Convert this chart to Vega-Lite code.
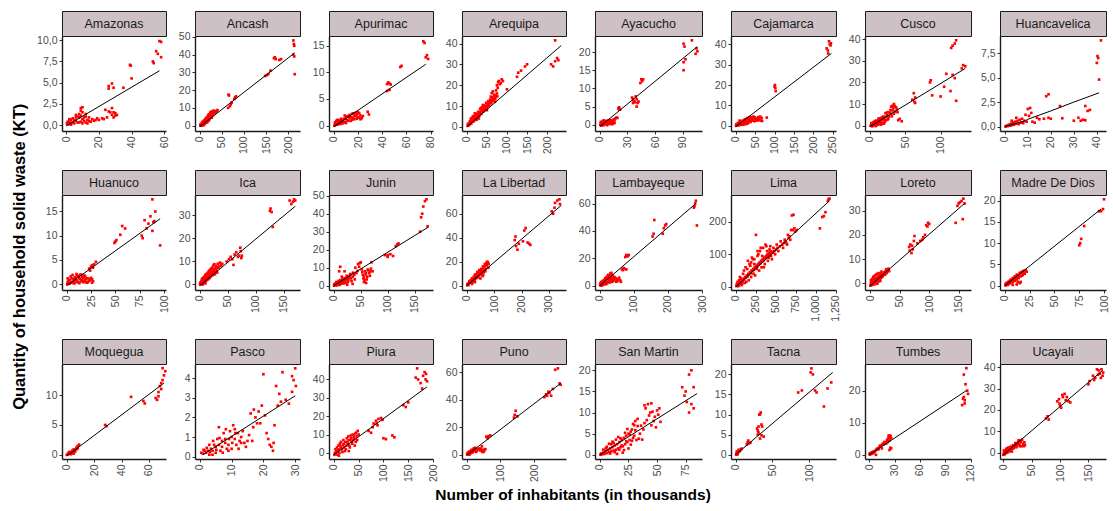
{
"$schema":"https://vega.github.io/schema/vega-lite/v6.json",
"background":"white",
"padding":{"left":12,"top":10,"right":5,"bottom":5},
"config":{
 "view":{"stroke":null},
 "font":"Liberation Sans",
 "numberFormat":",d",
 "axis":{"grid":false,"labelFont":"Liberation Sans","labelFontSize":10.5,"labelColor":"#4d4d4d","domainColor":"#1a1a1a","domainWidth":1.4,"tickColor":"#333333","tickSize":3,"tickWidth":1,"labelPadding":2,"labelExpr":"replace(datum.label, '.', ',')","labelOverlap":false,"labelFlush":false},
 "axisX":{"labelAngle":270},
 "square":{"size":7,"color":"#ff0000","opacity":1},
 "text":{"fontSize":12.5,"color":"#1a1a1a"},
 "title":{"font":"Liberation Sans","fontWeight":"bold","color":"#000000"}
},
"datasets":{
"p_Amazonas":[{"x":57,"y":9.9},{"x":58,"y":9.8},{"x":55,"y":8.7},{"x":56,"y":8.4},{"x":58,"y":8},{"x":53,"y":7.5},{"x":53.5,"y":7.3},{"x":39,"y":7.1},{"x":39.5,"y":7},{"x":40,"y":5.5},{"x":35,"y":4.4},{"x":26,"y":4.3},{"x":26,"y":4.6},{"x":28,"y":4.9},{"x":29,"y":4.4},{"x":24,"y":1.8},{"x":27,"y":1.5},{"x":28,"y":2},{"x":28,"y":1.2},{"x":30,"y":1.1},{"x":31,"y":1.2},{"x":29,"y":0.9},{"x":22,"y":0.8},{"x":20,"y":0.6},{"x":18,"y":0.6},{"x":19,"y":0.8},{"x":14,"y":0.5},{"x":12,"y":0.3},{"x":10,"y":0.7},{"x":10,"y":1.5},{"x":9,"y":2},{"x":8,"y":0.9},{"x":7,"y":1},{"x":6,"y":0.5},{"x":5,"y":0.6},{"x":4,"y":0.3},{"x":3,"y":0.2},{"x":2,"y":0.4},{"x":1,"y":0.1},{"x":0.5,"y":0.2},{"x":8,"y":0.3},{"x":11,"y":0.9},{"x":6,"y":1.2},{"x":3,"y":0.6},{"x":2,"y":0.1},{"x":12,"y":1},{"x":13,"y":0.6},{"x":9,"y":0.4},{"x":1,"y":0.4},{"x":2,"y":0.7},{"x":3,"y":0.05},{"x":4,"y":0.8},{"x":5,"y":0.2},{"x":6,"y":0.9},{"x":7,"y":0.3},{"x":8,"y":1.3},{"x":9,"y":1.1},{"x":10,"y":0.2},{"x":11,"y":0.5},{"x":12,"y":1.3},{"x":13,"y":0.2},{"x":14,"y":0.9},{"x":15,"y":0.4},{"x":16,"y":0.7},{"x":17,"y":0.5},{"x":9,"y":1.7},{"x":10,"y":2.1},{"x":26,"y":1.6},{"x":29,"y":1.5},{"x":30,"y":1.4},{"x":25,"y":0.9},{"x":23,"y":0.7}],
"f_Amazonas":[{"x":0,"y":-0.1},{"x":57,"y":6.4}],
"p_Ancash":[{"x":1,"y":0.2},{"x":2,"y":0},{"x":3,"y":0.5},{"x":4,"y":0.3},{"x":5,"y":1.2},{"x":6,"y":0.8},{"x":7,"y":1.5},{"x":8,"y":1},{"x":9,"y":0.5},{"x":10,"y":1.5},{"x":11,"y":2.5},{"x":12,"y":2},{"x":13,"y":3.5},{"x":14,"y":2.5},{"x":15,"y":3},{"x":16,"y":4},{"x":17,"y":2},{"x":18,"y":4},{"x":19,"y":5},{"x":20,"y":4.5},{"x":21,"y":3},{"x":22,"y":5},{"x":23,"y":6},{"x":24,"y":5.5},{"x":25,"y":7},{"x":26,"y":6},{"x":27,"y":4.5},{"x":28,"y":7.5},{"x":30,"y":7},{"x":32,"y":8},{"x":35,"y":7.5},{"x":38,"y":8},{"x":6,"y":2},{"x":10,"y":3},{"x":65,"y":17.5},{"x":66,"y":17},{"x":64,"y":10},{"x":68,"y":11},{"x":70,"y":12},{"x":72,"y":13},{"x":78,"y":15},{"x":80,"y":16},{"x":82,"y":16.5},{"x":148,"y":28},{"x":152,"y":28.5},{"x":155,"y":29},{"x":160,"y":31},{"x":168,"y":38},{"x":170,"y":38.5},{"x":172,"y":37.5},{"x":180,"y":37},{"x":184,"y":37.5},{"x":212,"y":48},{"x":213,"y":46},{"x":214,"y":45},{"x":212,"y":40},{"x":214,"y":39},{"x":215,"y":29},{"x":2,"y":0.8},{"x":4,"y":1.2},{"x":5,"y":0.1},{"x":7,"y":2.2},{"x":8,"y":0.3},{"x":9,"y":2.5},{"x":11,"y":1},{"x":12,"y":3.2},{"x":13,"y":1.5},{"x":14,"y":4.2},{"x":15,"y":1.8},{"x":16,"y":4.8},{"x":17,"y":3.5},{"x":18,"y":2.8},{"x":19,"y":6},{"x":20,"y":3.2},{"x":21,"y":6.5},{"x":22,"y":4},{"x":23,"y":4.5},{"x":24,"y":7.5},{"x":26,"y":5},{"x":27,"y":8},{"x":29,"y":6},{"x":31,"y":8.5},{"x":33,"y":7},{"x":36,"y":8.2},{"x":40,"y":8.8}],
"f_Ancash":[{"x":0,"y":-0.5},{"x":215,"y":41}],
"p_Apurimac":[{"x":0.5,"y":0},{"x":1,"y":0.3},{"x":2,"y":0.2},{"x":3,"y":0.6},{"x":4,"y":0.4},{"x":5,"y":0.8},{"x":6,"y":0.5},{"x":7,"y":1},{"x":8,"y":1.2},{"x":9,"y":0.7},{"x":10,"y":1.5},{"x":11,"y":1},{"x":12,"y":1.8},{"x":13,"y":1.4},{"x":14,"y":0.9},{"x":15,"y":2.2},{"x":16,"y":1.5},{"x":17,"y":1.2},{"x":18,"y":1.8},{"x":19,"y":2.1},{"x":20,"y":1.6},{"x":21,"y":2.3},{"x":22,"y":1.9},{"x":23,"y":1.4},{"x":28,"y":2.6},{"x":29,"y":2.1},{"x":44,"y":7.8},{"x":45,"y":8.1},{"x":46,"y":7.9},{"x":47,"y":7.7},{"x":44,"y":6.5},{"x":46,"y":6.7},{"x":55,"y":11},{"x":56,"y":11.2},{"x":74,"y":15.8},{"x":75,"y":15.5},{"x":76,"y":12.8},{"x":77,"y":13.2},{"x":78,"y":12.5},{"x":3,"y":1.1},{"x":6,"y":1.3},{"x":9,"y":1.9},{"x":1,"y":0.6},{"x":2,"y":0.9},{"x":3,"y":0.2},{"x":4,"y":1},{"x":5,"y":0.3},{"x":6,"y":0.9},{"x":7,"y":0.4},{"x":8,"y":0.6},{"x":9,"y":1.3},{"x":10,"y":0.5},{"x":11,"y":1.7},{"x":12,"y":0.9},{"x":13,"y":2},{"x":14,"y":1.6},{"x":15,"y":1.1},{"x":16,"y":2.3},{"x":17,"y":1.9},{"x":18,"y":2.4},{"x":19,"y":1.3},{"x":20,"y":2.5},{"x":22,"y":1.2},{"x":24,"y":1.8},{"x":21,"y":1.5}],
"f_Apurimac":[{"x":0,"y":-0.2},{"x":76,"y":11.5}],
"p_Arequipa":[{"x":2,"y":0.5},{"x":5,"y":1},{"x":7,"y":2},{"x":10,"y":2},{"x":12,"y":3},{"x":15,"y":3},{"x":17,"y":4},{"x":20,"y":4},{"x":22,"y":5},{"x":25,"y":5},{"x":27,"y":6},{"x":30,"y":6},{"x":32,"y":7},{"x":35,"y":7},{"x":37,"y":8},{"x":40,"y":8},{"x":42,"y":9},{"x":45,"y":9},{"x":47,"y":10},{"x":50,"y":10},{"x":52,"y":11},{"x":55,"y":11},{"x":57,"y":12},{"x":60,"y":12},{"x":62,"y":13},{"x":65,"y":13},{"x":67,"y":14},{"x":70,"y":14},{"x":72,"y":15},{"x":75,"y":16},{"x":10,"y":4},{"x":20,"y":6.5},{"x":30,"y":4},{"x":40,"y":10.5},{"x":50,"y":8},{"x":60,"y":14.5},{"x":70,"y":12},{"x":65,"y":17},{"x":75,"y":20},{"x":78,"y":21.5},{"x":80,"y":22},{"x":85,"y":21},{"x":90,"y":22},{"x":100,"y":18},{"x":125,"y":24},{"x":128,"y":26},{"x":135,"y":27},{"x":145,"y":29},{"x":150,"y":30},{"x":210,"y":30},{"x":215,"y":29},{"x":220,"y":31.5},{"x":225,"y":33},{"x":228,"y":32},{"x":220,"y":41.5},{"x":15,"y":5},{"x":25,"y":3.5},{"x":35,"y":9},{"x":3,"y":1.5},{"x":6,"y":0.8},{"x":8,"y":2.8},{"x":11,"y":1.5},{"x":13,"y":4.2},{"x":16,"y":2.5},{"x":18,"y":5.3},{"x":21,"y":3.2},{"x":23,"y":6.2},{"x":26,"y":4.5},{"x":28,"y":7.2},{"x":31,"y":5.3},{"x":33,"y":8.5},{"x":36,"y":6.2},{"x":38,"y":9.4},{"x":41,"y":7.3},{"x":43,"y":10.3},{"x":46,"y":8.2},{"x":48,"y":11.5},{"x":51,"y":9.3},{"x":53,"y":12.3},{"x":56,"y":10.2},{"x":58,"y":13.1},{"x":61,"y":11.3},{"x":63,"y":14.2},{"x":66,"y":12.5},{"x":68,"y":15.4},{"x":71,"y":13.3},{"x":73,"y":17.5},{"x":76,"y":14.6},{"x":77,"y":18.8},{"x":82,"y":20.5},{"x":87,"y":22.8},{"x":62,"y":16.2}],
"f_Arequipa":[{"x":0,"y":0},{"x":235,"y":39}],
"p_Ayacucho":[{"x":0.5,"y":0},{"x":1,"y":0.3},{"x":2,"y":-0.2},{"x":3,"y":0.2},{"x":4,"y":0.5},{"x":5,"y":0.1},{"x":6,"y":0.6},{"x":7,"y":0.3},{"x":8,"y":0.8},{"x":9,"y":0.4},{"x":10,"y":1},{"x":11,"y":0.6},{"x":12,"y":1.2},{"x":13,"y":0.3},{"x":14,"y":0.8},{"x":15,"y":1.5},{"x":16,"y":0.5},{"x":17,"y":1.8},{"x":18,"y":2},{"x":20,"y":4.5},{"x":21,"y":4.8},{"x":22,"y":4.2},{"x":35,"y":7.5},{"x":36,"y":7},{"x":37,"y":6.5},{"x":38,"y":6.2},{"x":40,"y":7},{"x":41,"y":6},{"x":40,"y":5},{"x":44,"y":11.5},{"x":45,"y":12.5},{"x":46,"y":12},{"x":47,"y":12.5},{"x":91,"y":22.3},{"x":92,"y":21.5},{"x":93,"y":18},{"x":91,"y":17.2},{"x":91,"y":15},{"x":100,"y":23.2},{"x":104,"y":19.5},{"x":105,"y":21},{"x":106,"y":20.2},{"x":4,"y":1.2},{"x":8,"y":-0.1},{"x":12,"y":0.2},{"x":1,"y":0.8},{"x":2,"y":0.5},{"x":3,"y":0.9},{"x":4,"y":-0.1},{"x":5,"y":0.6},{"x":6,"y":1.1},{"x":7,"y":0.9},{"x":8,"y":0.2},{"x":9,"y":1.2},{"x":10,"y":0.3},{"x":11,"y":1.3},{"x":12,"y":0.7},{"x":13,"y":1.1},{"x":14,"y":0.2},{"x":15,"y":0.6},{"x":16,"y":1.3},{"x":19,"y":1.9},{"x":21,"y":4.2},{"x":36,"y":6},{"x":39,"y":7.8},{"x":42,"y":6.4}],
"f_Ayacucho":[{"x":0,"y":-0.5},{"x":106,"y":21.5}],
"p_Cajamarca":[{"x":1,"y":0},{"x":3,"y":0.5},{"x":5,"y":0.2},{"x":7,"y":1},{"x":9,"y":0.6},{"x":11,"y":1.5},{"x":13,"y":0.8},{"x":15,"y":1.8},{"x":17,"y":1},{"x":19,"y":2.2},{"x":21,"y":1.2},{"x":23,"y":2.8},{"x":25,"y":1.5},{"x":27,"y":3},{"x":29,"y":2},{"x":31,"y":3.5},{"x":33,"y":2.5},{"x":35,"y":3.8},{"x":37,"y":2.2},{"x":39,"y":4},{"x":41,"y":3},{"x":43,"y":4.2},{"x":45,"y":2.8},{"x":47,"y":3.5},{"x":50,"y":4},{"x":52,"y":2.5},{"x":55,"y":3},{"x":58,"y":4.2},{"x":60,"y":3.5},{"x":62,"y":2.8},{"x":65,"y":2.5},{"x":68,"y":2.3},{"x":80,"y":4},{"x":101,"y":20},{"x":102,"y":18.5},{"x":103,"y":17},{"x":100,"y":19.2},{"x":234,"y":38},{"x":237,"y":37},{"x":240,"y":41.5},{"x":242,"y":40},{"x":244,"y":39.5},{"x":238,"y":35.5},{"x":245,"y":40.5},{"x":10,"y":2.5},{"x":20,"y":0.5},{"x":30,"y":1},{"x":2,"y":0.8},{"x":4,"y":0.2},{"x":6,"y":1.3},{"x":8,"y":0.3},{"x":10,"y":1.5},{"x":12,"y":0.4},{"x":14,"y":2},{"x":16,"y":0.6},{"x":18,"y":2.5},{"x":20,"y":1.5},{"x":22,"y":2},{"x":24,"y":3.2},{"x":26,"y":0.8},{"x":28,"y":2.5},{"x":30,"y":3.8},{"x":32,"y":1.5},{"x":34,"y":3},{"x":36,"y":4.2},{"x":38,"y":1.8},{"x":40,"y":3.5},{"x":42,"y":2.5},{"x":44,"y":3.8},{"x":46,"y":4.5},{"x":48,"y":2.2},{"x":53,"y":3.5},{"x":57,"y":2.6},{"x":63,"y":4.5},{"x":67,"y":3.8}],
"f_Cajamarca":[{"x":0,"y":-0.5},{"x":246,"y":35.5}],
"p_Cusco":[{"x":1,"y":0},{"x":2,"y":0.5},{"x":3,"y":-0.3},{"x":4,"y":0.8},{"x":5,"y":0.3},{"x":6,"y":1.2},{"x":7,"y":0.5},{"x":8,"y":1.5},{"x":9,"y":0.2},{"x":10,"y":1},{"x":11,"y":2},{"x":12,"y":0.8},{"x":13,"y":2.5},{"x":14,"y":1.5},{"x":15,"y":2},{"x":16,"y":3},{"x":17,"y":1},{"x":18,"y":3.5},{"x":19,"y":2.5},{"x":20,"y":3},{"x":22,"y":4},{"x":24,"y":5},{"x":26,"y":4.5},{"x":28,"y":6},{"x":30,"y":5.5},{"x":32,"y":7},{"x":33,"y":8},{"x":34,"y":10},{"x":35,"y":9},{"x":36,"y":6.5},{"x":38,"y":7.5},{"x":40,"y":2.5},{"x":45,"y":2},{"x":20,"y":1},{"x":60,"y":12},{"x":62,"y":15},{"x":63,"y":11},{"x":64,"y":13},{"x":85,"y":20},{"x":86,"y":21},{"x":88,"y":14},{"x":100,"y":13.5},{"x":105,"y":18},{"x":108,"y":24},{"x":114,"y":16},{"x":117,"y":23.5},{"x":120,"y":22},{"x":122,"y":11.5},{"x":115,"y":36},{"x":117,"y":37},{"x":120,"y":38},{"x":122,"y":39.5},{"x":130,"y":26.5},{"x":132,"y":28},{"x":135,"y":27.5},{"x":12,"y":3.2},{"x":25,"y":2.8},{"x":2,"y":1.2},{"x":4,"y":-0.1},{"x":5,"y":1.6},{"x":7,"y":2.1},{"x":8,"y":-0.2},{"x":9,"y":2.3},{"x":10,"y":0.3},{"x":11,"y":0.6},{"x":12,"y":1.8},{"x":14,"y":3.4},{"x":15,"y":0.4},{"x":16,"y":1.3},{"x":17,"y":3.8},{"x":18,"y":0.8},{"x":19,"y":4.2},{"x":21,"y":1.8},{"x":22,"y":5.8},{"x":23,"y":2.5},{"x":25,"y":6.2},{"x":26,"y":3.2},{"x":27,"y":4.2},{"x":29,"y":7.2},{"x":31,"y":4.3},{"x":32,"y":9.2},{"x":34,"y":5.5},{"x":37,"y":8.5},{"x":39,"y":6.2},{"x":42,"y":3.1},{"x":30,"y":8.8},{"x":64,"y":10.5}],
"f_Cusco":[{"x":0,"y":-0.5},{"x":135,"y":26.5}],
"p_Huancavelica":[{"x":0.3,"y":0},{"x":0.8,"y":0.1},{"x":1.2,"y":0.05},{"x":1.8,"y":0.2},{"x":2.2,"y":0.1},{"x":2.7,"y":0.3},{"x":3.1,"y":0.15},{"x":3.5,"y":0.4},{"x":4,"y":0.2},{"x":4.5,"y":0.5},{"x":5,"y":0.3},{"x":5.5,"y":0.6},{"x":6,"y":0.25},{"x":6.5,"y":0.7},{"x":7,"y":0.4},{"x":7.5,"y":0.8},{"x":8,"y":0.35},{"x":8.5,"y":0.6},{"x":9,"y":1.2},{"x":9.5,"y":0.5},{"x":10,"y":1.8},{"x":10.5,"y":1.1},{"x":11,"y":1.9},{"x":11.5,"y":1.4},{"x":12,"y":0.5},{"x":13,"y":0.4},{"x":14,"y":0.9},{"x":15,"y":0.75},{"x":18,"y":3.1},{"x":19,"y":3.3},{"x":17,"y":0.8},{"x":19,"y":0.9},{"x":20,"y":0.8},{"x":25,"y":0.85},{"x":24,"y":2.1},{"x":30,"y":0.6},{"x":32,"y":0.9},{"x":33,"y":0.6},{"x":34,"y":0.7},{"x":35,"y":0.65},{"x":35,"y":2.1},{"x":36,"y":1.6},{"x":37,"y":1.7},{"x":40,"y":6.5},{"x":40.3,"y":7.2},{"x":40.6,"y":7},{"x":41,"y":4.8},{"x":41.8,"y":8.8},{"x":5,"y":0.9},{"x":3,"y":0.6}],
"f_Huancavelica":[{"x":0,"y":0},{"x":9,"y":0.6},{"x":10,"y":0.75},{"x":20,"y":1.6},{"x":30,"y":2.5},{"x":41,"y":3.45}],
"p_Huanuco":[{"x":0.5,"y":0},{"x":1,"y":0.5},{"x":2,"y":0.2},{"x":3,"y":0.8},{"x":4,"y":0.3},{"x":5,"y":1.2},{"x":6,"y":0.5},{"x":7,"y":1},{"x":8,"y":0.2},{"x":9,"y":1.5},{"x":10,"y":0.8},{"x":11,"y":1.8},{"x":12,"y":0.5},{"x":13,"y":1.2},{"x":14,"y":2},{"x":15,"y":0.6},{"x":16,"y":1.5},{"x":17,"y":0.4},{"x":18,"y":1.8},{"x":19,"y":0.9},{"x":20,"y":1.2},{"x":21,"y":0.3},{"x":22,"y":0.5},{"x":24,"y":0.9},{"x":26,"y":1},{"x":27,"y":0.6},{"x":23,"y":3.2},{"x":25,"y":3.6},{"x":27,"y":3.4},{"x":30,"y":4.6},{"x":49,"y":8.5},{"x":50,"y":8.8},{"x":51,"y":9.1},{"x":55,"y":10.2},{"x":57,"y":12},{"x":60,"y":11.5},{"x":77,"y":10},{"x":78,"y":9.5},{"x":80,"y":13.2},{"x":84,"y":12.5},{"x":86,"y":14},{"x":88,"y":17.5},{"x":89,"y":12.8},{"x":90,"y":13},{"x":91,"y":15},{"x":96,"y":8},{"x":88,"y":11},{"x":82,"y":11.5},{"x":1,"y":1.2},{"x":2,"y":0.9},{"x":3,"y":0.1},{"x":4,"y":1.6},{"x":5,"y":0.4},{"x":6,"y":1.9},{"x":7,"y":0.2},{"x":8,"y":1.3},{"x":9,"y":0.7},{"x":10,"y":2.1},{"x":11,"y":0.4},{"x":12,"y":1.6},{"x":13,"y":0.2},{"x":14,"y":1.1},{"x":15,"y":1.9},{"x":16,"y":0.8},{"x":17,"y":1.3},{"x":18,"y":0.6},{"x":19,"y":1.6},{"x":20,"y":0.4},{"x":22,"y":1.2},{"x":23,"y":0.7},{"x":25,"y":1.3},{"x":26,"y":0.3},{"x":24,"y":2.8},{"x":28,"y":4.1},{"x":26,"y":3.9}],
"f_Huanuco":[{"x":0,"y":-0.3},{"x":96,"y":13.5}],
"p_Ica":[{"x":0.5,"y":0},{"x":2,"y":0.5},{"x":3,"y":0.3},{"x":4,"y":1},{"x":5,"y":1.5},{"x":6,"y":0.8},{"x":7,"y":2},{"x":8,"y":1.2},{"x":9,"y":2.5},{"x":10,"y":1.8},{"x":11,"y":3},{"x":12,"y":2.2},{"x":13,"y":3.5},{"x":14,"y":2.6},{"x":15,"y":4},{"x":16,"y":3},{"x":17,"y":4.5},{"x":18,"y":3.2},{"x":19,"y":5},{"x":20,"y":3.8},{"x":21,"y":5.5},{"x":22,"y":4.2},{"x":23,"y":6},{"x":24,"y":4.8},{"x":25,"y":6.5},{"x":26,"y":5},{"x":27,"y":7},{"x":28,"y":5.5},{"x":29,"y":8},{"x":30,"y":6},{"x":32,"y":9},{"x":35,"y":8},{"x":40,"y":9},{"x":48,"y":10},{"x":52,"y":11},{"x":55,"y":12},{"x":58,"y":11},{"x":60,"y":8.5},{"x":62,"y":13},{"x":65,"y":14},{"x":68,"y":12},{"x":70,"y":12.5},{"x":72,"y":16},{"x":74,"y":11.5},{"x":125,"y":32},{"x":126,"y":33},{"x":128,"y":31.5},{"x":130,"y":25},{"x":160,"y":36.5},{"x":163,"y":35},{"x":166,"y":36},{"x":170,"y":36.5},{"x":168,"y":37},{"x":5,"y":0},{"x":10,"y":0.5},{"x":1,"y":0.8},{"x":3,"y":1.6},{"x":4,"y":2.5},{"x":6,"y":2.9},{"x":7,"y":0.5},{"x":8,"y":3.4},{"x":9,"y":1},{"x":10,"y":4.2},{"x":11,"y":1.5},{"x":12,"y":4.6},{"x":13,"y":2},{"x":14,"y":5.1},{"x":15,"y":2.3},{"x":16,"y":5.8},{"x":17,"y":2.7},{"x":18,"y":6.3},{"x":19,"y":3.5},{"x":20,"y":6.8},{"x":21,"y":4.5},{"x":22,"y":7.3},{"x":23,"y":4.1},{"x":24,"y":8.2},{"x":25,"y":5.8},{"x":26,"y":8.8},{"x":27,"y":4.4},{"x":28,"y":6.8},{"x":30,"y":7.5},{"x":31,"y":5.2},{"x":33,"y":7.2},{"x":36,"y":9.5},{"x":38,"y":8.3},{"x":75,"y":12.5},{"x":73,"y":14.5}],
"f_Ica":[{"x":0,"y":-0.5},{"x":170,"y":34}],
"p_Junin":[{"x":0.5,"y":0},{"x":2,"y":0.5},{"x":4,"y":0.3},{"x":5,"y":1},{"x":7,"y":0.6},{"x":8,"y":1.5},{"x":10,"y":1},{"x":11,"y":2},{"x":12,"y":10.5},{"x":13,"y":1.5},{"x":15,"y":2.5},{"x":17,"y":2},{"x":19,"y":3},{"x":20,"y":8},{"x":21,"y":2.5},{"x":23,"y":3.5},{"x":25,"y":4},{"x":27,"y":3},{"x":29,"y":5},{"x":30,"y":6},{"x":32,"y":4},{"x":35,"y":5},{"x":38,"y":6},{"x":40,"y":10},{"x":42,"y":7},{"x":45,"y":12},{"x":48,"y":12.5},{"x":50,"y":13},{"x":52,"y":9},{"x":54,"y":6},{"x":55,"y":4},{"x":56,"y":2},{"x":57,"y":3},{"x":58,"y":8},{"x":60,"y":7},{"x":62,"y":5},{"x":63,"y":9},{"x":66,"y":7},{"x":68,"y":8},{"x":70,"y":13},{"x":95,"y":17},{"x":100,"y":17},{"x":105,"y":17.5},{"x":115,"y":22},{"x":120,"y":23.5},{"x":118,"y":23},{"x":160,"y":30},{"x":162,"y":38},{"x":164,"y":40},{"x":166,"y":44},{"x":169,"y":47},{"x":172,"y":48},{"x":174,"y":33},{"x":10,"y":8},{"x":15,"y":5},{"x":25,"y":0.5},{"x":35,"y":1},{"x":60,"y":1.5},{"x":1,"y":0.8},{"x":3,"y":1.2},{"x":5,"y":2.1},{"x":6,"y":0.2},{"x":7,"y":1.8},{"x":9,"y":2.6},{"x":11,"y":0.4},{"x":12,"y":3.1},{"x":14,"y":1.1},{"x":16,"y":3.5},{"x":18,"y":1.2},{"x":20,"y":4.2},{"x":22,"y":1.5},{"x":24,"y":5.5},{"x":26,"y":2},{"x":28,"y":4.5},{"x":31,"y":6.5},{"x":33,"y":2.5},{"x":36,"y":7.2},{"x":39,"y":3.5},{"x":44,"y":8.2},{"x":47,"y":10.5},{"x":53,"y":7.5},{"x":56,"y":4.8},{"x":59,"y":6.2},{"x":61,"y":3.5},{"x":64,"y":8.5},{"x":67,"y":5.5},{"x":69,"y":9.5},{"x":72,"y":8},{"x":100,"y":16},{"x":110,"y":16.5}],
"f_Junin":[{"x":0,"y":0},{"x":175,"y":32.5}],
"p_La_Libertad":[{"x":2,"y":0.5},{"x":5,"y":1},{"x":8,"y":2},{"x":10,"y":3},{"x":12,"y":2.5},{"x":15,"y":4},{"x":18,"y":3},{"x":20,"y":5},{"x":22,"y":6},{"x":25,"y":5},{"x":28,"y":7},{"x":30,"y":9},{"x":32,"y":6},{"x":35,"y":8},{"x":38,"y":10},{"x":40,"y":7},{"x":42,"y":9},{"x":45,"y":11},{"x":48,"y":9},{"x":50,"y":12},{"x":52,"y":10},{"x":55,"y":13},{"x":58,"y":8},{"x":60,"y":14},{"x":62,"y":11},{"x":65,"y":16},{"x":68,"y":12},{"x":70,"y":17},{"x":72,"y":19},{"x":75,"y":20},{"x":78,"y":19},{"x":80,"y":18},{"x":30,"y":3},{"x":50,"y":6},{"x":175,"y":38},{"x":178,"y":41},{"x":180,"y":33},{"x":185,"y":30},{"x":190,"y":35},{"x":205,"y":37},{"x":210,"y":46},{"x":215,"y":48},{"x":222,"y":36},{"x":228,"y":35},{"x":232,"y":34},{"x":310,"y":62},{"x":315,"y":60},{"x":320,"y":65},{"x":322,"y":69},{"x":330,"y":71},{"x":338,"y":72},{"x":340,"y":68},{"x":60,"y":9},{"x":20,"y":1.5},{"x":3,"y":1.5},{"x":6,"y":0.5},{"x":9,"y":3.5},{"x":13,"y":4.2},{"x":16,"y":2.5},{"x":19,"y":6},{"x":23,"y":3.5},{"x":26,"y":7.5},{"x":29,"y":5},{"x":33,"y":9.5},{"x":36,"y":6.5},{"x":39,"y":11.5},{"x":43,"y":7.5},{"x":46,"y":13},{"x":49,"y":10.5},{"x":53,"y":14},{"x":56,"y":11.5},{"x":59,"y":16},{"x":63,"y":13},{"x":66,"y":18},{"x":69,"y":14},{"x":73,"y":17},{"x":76,"y":19.5},{"x":79,"y":15}],
"f_La_Libertad":[{"x":0,"y":0},{"x":345,"y":67}],
"p_Lambayeque":[{"x":1,"y":0.5},{"x":3,"y":1},{"x":5,"y":0.2},{"x":7,"y":2},{"x":9,"y":1},{"x":11,"y":3},{"x":13,"y":1.5},{"x":15,"y":4},{"x":17,"y":2},{"x":19,"y":5},{"x":21,"y":2.5},{"x":23,"y":6},{"x":25,"y":3},{"x":27,"y":7},{"x":29,"y":4},{"x":31,"y":9},{"x":33,"y":5},{"x":35,"y":8},{"x":37,"y":3},{"x":40,"y":6},{"x":42,"y":4},{"x":45,"y":5},{"x":48,"y":3},{"x":50,"y":4.5},{"x":55,"y":5},{"x":60,"y":4},{"x":65,"y":12},{"x":70,"y":13},{"x":78,"y":12},{"x":75,"y":21},{"x":80,"y":22},{"x":85,"y":22.5},{"x":155,"y":36},{"x":158,"y":38},{"x":160,"y":48},{"x":188,"y":42},{"x":192,"y":44},{"x":195,"y":45},{"x":185,"y":38},{"x":278,"y":58},{"x":280,"y":60},{"x":282,"y":62},{"x":285,"y":44},{"x":276,"y":57},{"x":2,"y":1.8},{"x":4,"y":2.8},{"x":6,"y":0.5},{"x":8,"y":3.5},{"x":10,"y":0.8},{"x":12,"y":4.2},{"x":14,"y":2.8},{"x":16,"y":5.5},{"x":18,"y":1.2},{"x":20,"y":6.5},{"x":22,"y":1.8},{"x":24,"y":8},{"x":26,"y":4},{"x":28,"y":5.5},{"x":30,"y":2.5},{"x":32,"y":6.5},{"x":34,"y":9.5},{"x":36,"y":4.5},{"x":38,"y":7.5},{"x":43,"y":6.5},{"x":47,"y":5.5},{"x":52,"y":3.5},{"x":57,"y":6},{"x":62,"y":3},{"x":68,"y":11.5},{"x":72,"y":12.5},{"x":82,"y":21.5},{"x":78,"y":22.5}],
"f_Lambayeque":[{"x":0,"y":0},{"x":282,"y":60}],
"p_Lima":[{"x":5,"y":2},{"x":15,"y":4},{"x":25,"y":8},{"x":35,"y":5},{"x":45,"y":12},{"x":55,"y":15},{"x":65,"y":10},{"x":75,"y":20},{"x":85,"y":18},{"x":95,"y":25},{"x":105,"y":22},{"x":115,"y":30},{"x":125,"y":28},{"x":135,"y":35},{"x":145,"y":32},{"x":155,"y":40},{"x":165,"y":38},{"x":175,"y":45},{"x":185,"y":42},{"x":195,"y":50},{"x":205,"y":48},{"x":215,"y":55},{"x":225,"y":52},{"x":235,"y":60},{"x":245,"y":58},{"x":255,"y":65},{"x":265,"y":62},{"x":275,"y":70},{"x":285,"y":68},{"x":295,"y":75},{"x":305,"y":72},{"x":315,"y":80},{"x":325,"y":78},{"x":335,"y":85},{"x":345,"y":82},{"x":355,"y":90},{"x":365,"y":88},{"x":375,"y":95},{"x":385,"y":92},{"x":395,"y":100},{"x":405,"y":98},{"x":415,"y":105},{"x":425,"y":102},{"x":435,"y":110},{"x":445,"y":108},{"x":100,"y":50},{"x":120,"y":60},{"x":150,"y":80},{"x":180,"y":65},{"x":200,"y":90},{"x":220,"y":40},{"x":250,"y":160},{"x":260,"y":55},{"x":280,"y":100},{"x":300,"y":110},{"x":320,"y":60},{"x":340,"y":120},{"x":360,"y":70},{"x":380,"y":125},{"x":400,"y":80},{"x":420,"y":115},{"x":440,"y":95},{"x":460,"y":105},{"x":480,"y":110},{"x":500,"y":115},{"x":520,"y":120},{"x":550,"y":125},{"x":580,"y":130},{"x":600,"y":135},{"x":620,"y":140},{"x":640,"y":130},{"x":660,"y":150},{"x":650,"y":160},{"x":700,"y":220},{"x":720,"y":222},{"x":690,"y":175},{"x":740,"y":170},{"x":760,"y":175},{"x":1050,"y":180},{"x":1080,"y":215},{"x":1100,"y":218},{"x":1120,"y":230},{"x":1150,"y":265},{"x":1160,"y":270},{"x":1170,"y":272},{"x":50,"y":30},{"x":80,"y":10},{"x":130,"y":15},{"x":10,"y":8},{"x":20,"y":15},{"x":30,"y":2},{"x":40,"y":20},{"x":60,"y":25},{"x":70,"y":5},{"x":90,"y":40},{"x":110,"y":12},{"x":140,"y":55},{"x":160,"y":20},{"x":170,"y":70},{"x":190,"y":30},{"x":210,"y":85},{"x":230,"y":70},{"x":240,"y":35},{"x":270,"y":95},{"x":290,"y":50},{"x":310,"y":120},{"x":330,"y":95},{"x":350,"y":60},{"x":370,"y":130},{"x":390,"y":110},{"x":410,"y":90},{"x":430,"y":125},{"x":450,"y":85},{"x":470,"y":120},{"x":490,"y":100},{"x":510,"y":130},{"x":530,"y":110},{"x":560,"y":140},{"x":590,"y":120},{"x":610,"y":145},{"x":630,"y":135},{"x":670,"y":155},{"x":680,"y":145},{"x":710,"y":175},{"x":730,"y":180},{"x":270,"y":110},{"x":230,"y":85},{"x":190,"y":75}],
"f_Lima":[{"x":0,"y":0},{"x":1170,"y":265}],
"p_Loreto":[{"x":0,"y":-1},{"x":1,"y":0},{"x":2,"y":0.5},{"x":3,"y":-0.5},{"x":4,"y":1},{"x":5,"y":0},{"x":6,"y":1.5},{"x":7,"y":0.3},{"x":8,"y":1},{"x":9,"y":2},{"x":10,"y":0.5},{"x":11,"y":1.8},{"x":12,"y":0.8},{"x":13,"y":2.5},{"x":14,"y":1.2},{"x":15,"y":3},{"x":16,"y":1.5},{"x":17,"y":2.2},{"x":18,"y":4},{"x":19,"y":2.5},{"x":20,"y":3},{"x":22,"y":3.5},{"x":24,"y":4.5},{"x":26,"y":5},{"x":28,"y":4.2},{"x":30,"y":5.5},{"x":32,"y":5},{"x":5,"y":2.5},{"x":10,"y":3.5},{"x":66,"y":15},{"x":68,"y":16},{"x":70,"y":12.5},{"x":72,"y":14},{"x":75,"y":19.5},{"x":80,"y":16.5},{"x":85,"y":17.5},{"x":90,"y":19},{"x":95,"y":24},{"x":98,"y":25},{"x":100,"y":24.5},{"x":148,"y":32},{"x":150,"y":33},{"x":152,"y":33.5},{"x":155,"y":34},{"x":158,"y":35},{"x":160,"y":33},{"x":145,"y":25},{"x":157,"y":26.5},{"x":1,"y":1.2},{"x":2,"y":-0.8},{"x":3,"y":1.8},{"x":4,"y":-0.3},{"x":6,"y":2.8},{"x":7,"y":-0.5},{"x":8,"y":3.2},{"x":9,"y":0.3},{"x":11,"y":3.8},{"x":12,"y":-0.2},{"x":13,"y":1.2},{"x":14,"y":4.2},{"x":15,"y":0.8},{"x":16,"y":3.5},{"x":17,"y":1},{"x":18,"y":2.2},{"x":19,"y":4.8},{"x":21,"y":2.8},{"x":23,"y":4.2},{"x":25,"y":3.5},{"x":27,"y":5.8},{"x":29,"y":5},{"x":31,"y":6},{"x":67,"y":13.5},{"x":71,"y":15.5},{"x":74,"y":17.5},{"x":88,"y":18},{"x":93,"y":20},{"x":97,"y":23.5}],
"f_Loreto":[{"x":0,"y":-1},{"x":160,"y":33}],
"p_Madre_De_Dios":[{"x":0.5,"y":0.2},{"x":1,"y":0.5},{"x":2,"y":0.3},{"x":3,"y":0.8},{"x":4,"y":0.5},{"x":5,"y":1.2},{"x":6,"y":0.8},{"x":7,"y":1.5},{"x":8,"y":1},{"x":9,"y":1.8},{"x":10,"y":1.2},{"x":11,"y":2},{"x":12,"y":1.5},{"x":13,"y":2.5},{"x":14,"y":1.8},{"x":15,"y":3},{"x":16,"y":2.2},{"x":17,"y":3.2},{"x":18,"y":2.5},{"x":19,"y":3.5},{"x":20,"y":2.8},{"x":21,"y":3.6},{"x":15,"y":0.6},{"x":12,"y":0.3},{"x":75,"y":9.5},{"x":76,"y":10},{"x":77,"y":11},{"x":80,"y":14},{"x":97,"y":17.5},{"x":99,"y":18},{"x":100,"y":20.3},{"x":95,"y":17.5},{"x":8,"y":0.2},{"x":1,"y":0.1},{"x":2,"y":0.7},{"x":3,"y":0.2},{"x":4,"y":1},{"x":5,"y":0.6},{"x":6,"y":1.4},{"x":7,"y":0.8},{"x":8,"y":1.8},{"x":9,"y":1.1},{"x":10,"y":2.2},{"x":11,"y":1.5},{"x":12,"y":2.6},{"x":13,"y":1.9},{"x":14,"y":2.4},{"x":16,"y":3},{"x":17,"y":2.4},{"x":18,"y":3.3},{"x":19,"y":2.9},{"x":20,"y":3.4},{"x":22,"y":3.3},{"x":13,"y":0.9},{"x":16,"y":0.9}],
"f_Madre_De_Dios":[{"x":0,"y":0},{"x":97,"y":18}],
"p_Moquegua":[{"x":0,"y":0},{"x":1,"y":0.1},{"x":2,"y":0.2},{"x":3,"y":0.4},{"x":4,"y":0.3},{"x":5,"y":0.6},{"x":6,"y":0.8},{"x":7,"y":1.2},{"x":8,"y":1.5},{"x":9,"y":1.7},{"x":5,"y":0.2},{"x":2,"y":0.5},{"x":28,"y":5},{"x":29,"y":4.8},{"x":47,"y":9.7},{"x":56,"y":9},{"x":57,"y":8.6},{"x":65,"y":9.5},{"x":66,"y":9.2},{"x":67,"y":10.5},{"x":68,"y":11.5},{"x":69,"y":11},{"x":70,"y":12.5},{"x":71,"y":13.3},{"x":70,"y":14.5},{"x":1,"y":0.3},{"x":3,"y":0.1},{"x":4,"y":0.7},{"x":6,"y":0.5},{"x":7,"y":0.9},{"x":8,"y":1.1},{"x":5,"y":0.9},{"x":67,"y":9.8},{"x":69,"y":12},{"x":72,"y":14}],
"f_Moquegua":[{"x":0,"y":-0.2},{"x":71,"y":12}],
"p_Pasco":[{"x":0.5,"y":0.2},{"x":1,"y":0.15},{"x":1.5,"y":0.3},{"x":2,"y":0.2},{"x":2.5,"y":0.3},{"x":3,"y":0.1},{"x":3.5,"y":0.4},{"x":4,"y":0.3},{"x":4.5,"y":0.6},{"x":5,"y":0.5},{"x":5.5,"y":0.9},{"x":6,"y":0.6},{"x":6.5,"y":0.3},{"x":7,"y":0.5},{"x":7.5,"y":1.2},{"x":8,"y":0.9},{"x":8.5,"y":0.4},{"x":9,"y":0.3},{"x":9.5,"y":1.3},{"x":10,"y":0.4},{"x":10.5,"y":1.6},{"x":11,"y":0.9},{"x":11.5,"y":0.6},{"x":12,"y":1.2},{"x":12.5,"y":0.8},{"x":13,"y":0.7},{"x":14,"y":0.7},{"x":15,"y":0.8},{"x":16,"y":2.2},{"x":17,"y":2.4},{"x":17.5,"y":2},{"x":16.5,"y":0.8},{"x":18,"y":1.7},{"x":19,"y":1.7},{"x":20,"y":4.2},{"x":21,"y":1.2},{"x":22,"y":0.6},{"x":22.5,"y":0.5},{"x":23,"y":0.3},{"x":23.5,"y":1.6},{"x":24,"y":3.6},{"x":25,"y":3.2},{"x":24.5,"y":2.6},{"x":26,"y":4.3},{"x":28,"y":2.7},{"x":29,"y":4.1},{"x":30,"y":4.5},{"x":30.2,"y":3.6},{"x":29.5,"y":3.9},{"x":6,"y":1.5},{"x":10,"y":1},{"x":8,"y":0.7},{"x":3,"y":0.6},{"x":13,"y":1},{"x":11,"y":1.4},{"x":9,"y":0.6},{"x":7,"y":0.8},{"x":4,"y":0.1},{"x":5,"y":0.2},{"x":1.2,"y":0.35},{"x":2.2,"y":0.45},{"x":3.2,"y":0.25},{"x":4.2,"y":0.8},{"x":5.2,"y":0.35},{"x":6.2,"y":0.95},{"x":7.2,"y":0.2},{"x":8.2,"y":1.4},{"x":9.2,"y":0.9},{"x":10.2,"y":0.7},{"x":11.2,"y":1.2},{"x":12.2,"y":0.4},{"x":13.5,"y":1.3},{"x":14.5,"y":0.5},{"x":15.5,"y":1.1},{"x":16.8,"y":1.5},{"x":18.5,"y":2.3},{"x":19.5,"y":2.6},{"x":20.5,"y":2.1},{"x":21.5,"y":0.9},{"x":23.2,"y":0.7},{"x":25.5,"y":2.8},{"x":27,"y":2.9},{"x":29,"y":3.3}],
"f_Pasco":[{"x":1,"y":0.1},{"x":30,"y":3.1}],
"p_Piura":[{"x":2,"y":0},{"x":5,"y":1},{"x":7,"y":-1},{"x":10,"y":2},{"x":12,"y":5},{"x":15,"y":3},{"x":17,"y":0.5},{"x":20,"y":5},{"x":22,"y":1},{"x":25,"y":4},{"x":27,"y":6},{"x":30,"y":7},{"x":32,"y":3},{"x":35,"y":8},{"x":37,"y":5},{"x":40,"y":9},{"x":42,"y":4},{"x":45,"y":11},{"x":47,"y":7},{"x":50,"y":10},{"x":10,"y":-1.5},{"x":30,"y":1},{"x":70,"y":12},{"x":75,"y":11},{"x":80,"y":16},{"x":85,"y":17.5},{"x":88,"y":15},{"x":95,"y":19},{"x":98,"y":18},{"x":100,"y":8},{"x":105,"y":7.5},{"x":118,"y":9.5},{"x":122,"y":8.5},{"x":140,"y":26},{"x":145,"y":25},{"x":150,"y":27.5},{"x":165,"y":41},{"x":170,"y":40},{"x":175,"y":38},{"x":178,"y":35},{"x":180,"y":42},{"x":183,"y":44},{"x":185,"y":40},{"x":168,"y":46},{"x":186,"y":43},{"x":188,"y":39},{"x":1,"y":-1},{"x":3,"y":2},{"x":4,"y":0},{"x":6,"y":3},{"x":8,"y":1.5},{"x":9,"y":4},{"x":11,"y":0},{"x":13,"y":3.5},{"x":14,"y":6},{"x":16,"y":2},{"x":18,"y":4.5},{"x":19,"y":7},{"x":21,"y":3},{"x":23,"y":6},{"x":24,"y":2},{"x":26,"y":8},{"x":28,"y":5},{"x":29,"y":9},{"x":31,"y":4},{"x":33,"y":7},{"x":34,"y":9.5},{"x":36,"y":6},{"x":38,"y":10},{"x":39,"y":7},{"x":41,"y":8},{"x":43,"y":10.5},{"x":44,"y":6},{"x":46,"y":9},{"x":48,"y":12},{"x":90,"y":18.5},{"x":86,"y":16},{"x":78,"y":14}],
"f_Piura":[{"x":0,"y":-1},{"x":188,"y":36}],
"p_Puno":[{"x":2,"y":0.5},{"x":5,"y":1},{"x":8,"y":0},{"x":10,"y":2},{"x":12,"y":1},{"x":15,"y":3},{"x":18,"y":2},{"x":20,"y":4},{"x":22,"y":3},{"x":25,"y":5},{"x":28,"y":2},{"x":30,"y":3},{"x":35,"y":4},{"x":40,"y":3},{"x":45,"y":2.5},{"x":48,"y":3.5},{"x":50,"y":2},{"x":55,"y":4},{"x":45,"y":6},{"x":60,"y":13},{"x":62,"y":12},{"x":70,"y":14},{"x":140,"y":27},{"x":142,"y":29},{"x":145,"y":32},{"x":150,"y":28},{"x":230,"y":42},{"x":235,"y":44},{"x":245,"y":45},{"x":250,"y":43},{"x":255,"y":48},{"x":262,"y":62},{"x":270,"y":63},{"x":275,"y":52},{"x":278,"y":51},{"x":1,"y":0.2},{"x":3,"y":0.8},{"x":4,"y":1.5},{"x":6,"y":1.8},{"x":7,"y":0.5},{"x":9,"y":2.5},{"x":11,"y":1.5},{"x":13,"y":2},{"x":14,"y":3.5},{"x":16,"y":1.5},{"x":17,"y":2.5},{"x":19,"y":3},{"x":21,"y":4.5},{"x":24,"y":3.5},{"x":26,"y":2.5},{"x":32,"y":4},{"x":38,"y":4.5},{"x":42,"y":4},{"x":47,"y":2},{"x":52,"y":3},{"x":58,"y":13},{"x":65,"y":13.5},{"x":238,"y":43},{"x":242,"y":46}],
"f_Puno":[{"x":0,"y":-0.5},{"x":278,"y":52}],
"p_San_Martin":[{"x":0.5,"y":0},{"x":1,"y":0.3},{"x":2,"y":0.1},{"x":3,"y":0.5},{"x":4,"y":0.2},{"x":5,"y":0.8},{"x":6,"y":0.4},{"x":7,"y":1.2},{"x":8,"y":0.6},{"x":9,"y":1.5},{"x":10,"y":0.8},{"x":11,"y":1.8},{"x":12,"y":1},{"x":13,"y":2.2},{"x":14,"y":1.2},{"x":15,"y":2.5},{"x":16,"y":1.5},{"x":17,"y":3},{"x":18,"y":1.8},{"x":19,"y":3.5},{"x":20,"y":2},{"x":21,"y":4},{"x":22,"y":2.5},{"x":23,"y":4.5},{"x":24,"y":3},{"x":25,"y":5},{"x":26,"y":3.5},{"x":27,"y":5.5},{"x":28,"y":6},{"x":29,"y":4},{"x":30,"y":7},{"x":31,"y":8},{"x":32,"y":3.5},{"x":33,"y":8.5},{"x":35,"y":5},{"x":38,"y":6},{"x":40,"y":11},{"x":42,"y":12},{"x":44,"y":10},{"x":45,"y":7},{"x":47,"y":8},{"x":48,"y":9},{"x":50,"y":10.5},{"x":52,"y":11},{"x":15,"y":0.2},{"x":20,"y":0.5},{"x":72,"y":16},{"x":74,"y":14},{"x":75,"y":15},{"x":76,"y":12.5},{"x":78,"y":19},{"x":80,"y":20},{"x":82,"y":16},{"x":80,"y":12},{"x":78,"y":10},{"x":82,"y":11},{"x":10,"y":2.5},{"x":5,"y":1.5},{"x":25,"y":1.5},{"x":3,"y":1.2},{"x":6,"y":1.9},{"x":8,"y":2.6},{"x":9,"y":0.3},{"x":11,"y":3.1},{"x":12,"y":2.8},{"x":13,"y":0.6},{"x":14,"y":3.6},{"x":16,"y":4.2},{"x":17,"y":1.2},{"x":18,"y":3.9},{"x":19,"y":2.2},{"x":21,"y":1.1},{"x":22,"y":5.2},{"x":23,"y":3.2},{"x":24,"y":6.1},{"x":26,"y":4.8},{"x":27,"y":2.4},{"x":28,"y":3.3},{"x":29,"y":7.3},{"x":30,"y":4.5},{"x":31,"y":5.8},{"x":33,"y":6.8},{"x":34,"y":3.8},{"x":36,"y":6.9},{"x":37,"y":3.6},{"x":39,"y":7.5},{"x":41,"y":8.2},{"x":43,"y":9.3},{"x":46,"y":10.2},{"x":49,"y":6.5},{"x":51,"y":9.5},{"x":53,"y":7.8},{"x":45,"y":12.2},{"x":39,"y":11.7}],
"f_San_Martin":[{"x":0,"y":0},{"x":85,"y":14.5}],
"p_Tacna":[{"x":0.5,"y":0},{"x":1,"y":0.3},{"x":2,"y":0.6},{"x":3,"y":0.4},{"x":4,"y":1.2},{"x":5,"y":0.8},{"x":6,"y":1},{"x":8,"y":1.5},{"x":15,"y":2.5},{"x":17,"y":3.5},{"x":20,"y":3},{"x":30,"y":6},{"x":31,"y":7},{"x":32,"y":10},{"x":34,"y":10.5},{"x":35,"y":7.5},{"x":33,"y":4},{"x":38,"y":4.5},{"x":30,"y":5},{"x":85,"y":15.5},{"x":90,"y":16},{"x":102,"y":20.5},{"x":103,"y":21.5},{"x":105,"y":20},{"x":110,"y":15.5},{"x":120,"y":12},{"x":125,"y":16.5},{"x":130,"y":18},{"x":108,"y":16},{"x":2,"y":0},{"x":1.5,"y":0.8},{"x":2.5,"y":0.2},{"x":3.5,"y":0.9},{"x":7,"y":1.3},{"x":16,"y":3},{"x":18,"y":2.8},{"x":31,"y":5.5},{"x":33,"y":10},{"x":36,"y":7},{"x":35,"y":4.8},{"x":29,"y":6.5}],
"f_Tacna":[{"x":0,"y":0},{"x":132,"y":20.5}],
"p_Tumbes":[{"x":0.5,"y":0.2},{"x":1,"y":0.5},{"x":2,"y":0.3},{"x":3,"y":0.8},{"x":4,"y":0.5},{"x":5,"y":1},{"x":6,"y":0.8},{"x":8,"y":1.5},{"x":10,"y":2},{"x":12,"y":2.5},{"x":14,"y":3},{"x":15,"y":2},{"x":16,"y":3.5},{"x":18,"y":4},{"x":20,"y":3.5},{"x":22,"y":5},{"x":23,"y":6},{"x":24,"y":4.5},{"x":25,"y":5.5},{"x":26,"y":2},{"x":24,"y":1.5},{"x":110,"y":15.5},{"x":112,"y":18},{"x":113,"y":17},{"x":114,"y":22},{"x":115,"y":27},{"x":116,"y":20},{"x":117,"y":19},{"x":112,"y":25},{"x":8,"y":0},{"x":1,"y":0.1},{"x":3,"y":0.4},{"x":5,"y":0.6},{"x":7,"y":1.2},{"x":9,"y":1.8},{"x":11,"y":1.7},{"x":13,"y":2.8},{"x":17,"y":3.2},{"x":19,"y":3.8},{"x":21,"y":4.5},{"x":22,"y":4},{"x":23,"y":5.3},{"x":24,"y":5.8},{"x":25,"y":6},{"x":25,"y":2.2},{"x":26,"y":5.2},{"x":111,"y":17.5},{"x":113,"y":16}],
"f_Tumbes":[{"x":0,"y":0},{"x":115,"y":20}],
"p_Ucayali":[{"x":0,"y":-1},{"x":1,"y":0},{"x":2,"y":0.5},{"x":3,"y":-0.5},{"x":4,"y":1},{"x":5,"y":0.2},{"x":6,"y":1.2},{"x":7,"y":0.5},{"x":8,"y":1.5},{"x":9,"y":0.8},{"x":10,"y":1.2},{"x":12,"y":2},{"x":14,"y":1.5},{"x":16,"y":2.5},{"x":18,"y":2},{"x":20,"y":3},{"x":22,"y":4},{"x":24,"y":3.5},{"x":26,"y":5},{"x":28,"y":4},{"x":30,"y":5.5},{"x":32,"y":3},{"x":35,"y":4},{"x":38,"y":3.5},{"x":15,"y":0.5},{"x":75,"y":16},{"x":78,"y":17},{"x":80,"y":15.5},{"x":95,"y":24},{"x":98,"y":25},{"x":100,"y":22},{"x":102,"y":21},{"x":105,"y":26},{"x":108,"y":27.5},{"x":110,"y":24.5},{"x":118,"y":23.5},{"x":150,"y":32},{"x":152,"y":33.5},{"x":158,"y":36},{"x":160,"y":34},{"x":165,"y":39},{"x":168,"y":38.5},{"x":172,"y":35},{"x":175,"y":36},{"x":170,"y":37},{"x":1,"y":1},{"x":2,"y":-0.8},{"x":3,"y":0.9},{"x":4,"y":-0.2},{"x":5,"y":1.8},{"x":6,"y":0},{"x":7,"y":1.9},{"x":8,"y":0.2},{"x":9,"y":2.4},{"x":11,"y":0.6},{"x":13,"y":2.8},{"x":15,"y":1.9},{"x":17,"y":3.5},{"x":19,"y":2.6},{"x":21,"y":4.5},{"x":23,"y":2.5},{"x":25,"y":3.8},{"x":27,"y":5.8},{"x":29,"y":3},{"x":31,"y":4.8},{"x":33,"y":6},{"x":36,"y":3},{"x":37,"y":4.8},{"x":99,"y":23},{"x":104,"y":27},{"x":112,"y":26},{"x":115,"y":24},{"x":162,"y":35},{"x":167,"y":36.5},{"x":173,"y":39},{"x":176,"y":37.5}],
"f_Ucayali":[{"x":0,"y":-1},{"x":175,"y":38.5}]
},
"title":{"text":"Quantity of household solid waste (KT)","orient":"left","anchor":"middle","offset":8,"fontSize":16.5},
"vconcat":[{
"title":{"text":"Number of inhabitants (in thousands)","orient":"bottom","anchor":"middle","offset":6,"fontSize":15.5},
"columns":8,
"bounds":"flush",
"align":"each",
"spacing":{"row":0,"column":29},
"concat":[
{"width":104,"height":25,"view":{"fill":"#cdc1c5","stroke":"#1a1a1a","strokeWidth":1},"data":{"values":[{"name":"Amazonas"}]},"mark":{"type":"text"},"encoding":{"text":{"field":"name","type":"nominal"}}},
{"width":105,"height":25,"view":{"fill":"#cdc1c5","stroke":"#1a1a1a","strokeWidth":1},"data":{"values":[{"name":"Ancash"}]},"mark":{"type":"text"},"encoding":{"text":{"field":"name","type":"nominal"}}},
{"width":104,"height":25,"view":{"fill":"#cdc1c5","stroke":"#1a1a1a","strokeWidth":1},"data":{"values":[{"name":"Apurimac"}]},"mark":{"type":"text"},"encoding":{"text":{"field":"name","type":"nominal"}}},
{"width":104,"height":25,"view":{"fill":"#cdc1c5","stroke":"#1a1a1a","strokeWidth":1},"data":{"values":[{"name":"Arequipa"}]},"mark":{"type":"text"},"encoding":{"text":{"field":"name","type":"nominal"}}},
{"width":107,"height":25,"view":{"fill":"#cdc1c5","stroke":"#1a1a1a","strokeWidth":1},"data":{"values":[{"name":"Ayacucho"}]},"mark":{"type":"text"},"encoding":{"text":{"field":"name","type":"nominal"}}},
{"width":105,"height":25,"view":{"fill":"#cdc1c5","stroke":"#1a1a1a","strokeWidth":1},"data":{"values":[{"name":"Cajamarca"}]},"mark":{"type":"text"},"encoding":{"text":{"field":"name","type":"nominal"}}},
{"width":106,"height":25,"view":{"fill":"#cdc1c5","stroke":"#1a1a1a","strokeWidth":1},"data":{"values":[{"name":"Cusco"}]},"mark":{"type":"text"},"encoding":{"text":{"field":"name","type":"nominal"}}},
{"width":106,"height":25,"view":{"fill":"#cdc1c5","stroke":"#1a1a1a","strokeWidth":1},"data":{"values":[{"name":"Huancavelica"}]},"mark":{"type":"text"},"encoding":{"text":{"field":"name","type":"nominal"}}},
{"width":104,"height":95,"encoding":{"x":{"field":"x","type":"quantitative","title":null,"scale":{"domain":[-2.5,61],"nice":false,"zero":false},"axis":{"values":[0,20,40,60]}},"y":{"field":"y","type":"quantitative","title":null,"scale":{"domain":[-0.7,10.5],"nice":false,"zero":false},"axis":{"values":[0,2.5,5,7.5,10],"format":".1f"}}},"layer":[{"data":{"name":"p_Amazonas"},"mark":{"type":"square"}},{"data":{"name":"f_Amazonas"},"mark":{"type":"line","color":"#000000","strokeWidth":1},"encoding":{}}]},
{"width":105,"height":95,"encoding":{"x":{"field":"x","type":"quantitative","title":null,"scale":{"domain":[-11,227],"nice":false,"zero":false},"axis":{"values":[0,50,100,150,200]}},"y":{"field":"y","type":"quantitative","title":null,"scale":{"domain":[-3,50.5],"nice":false,"zero":false},"axis":{"values":[0,10,20,30,40,50]}}},"layer":[{"data":{"name":"p_Ancash"},"mark":{"type":"square"}},{"data":{"name":"f_Ancash"},"mark":{"type":"line","color":"#000000","strokeWidth":1},"encoding":{}}]},
{"width":104,"height":95,"encoding":{"x":{"field":"x","type":"quantitative","title":null,"scale":{"domain":[-4,82],"nice":false,"zero":false},"axis":{"values":[0,20,40,60,80]}},"y":{"field":"y","type":"quantitative","title":null,"scale":{"domain":[-1,16.8],"nice":false,"zero":false},"axis":{"values":[0,5,10,15]}}},"layer":[{"data":{"name":"p_Apurimac"},"mark":{"type":"square"}},{"data":{"name":"f_Apurimac"},"mark":{"type":"line","color":"#000000","strokeWidth":1},"encoding":{}}]},
{"width":104,"height":95,"encoding":{"x":{"field":"x","type":"quantitative","title":null,"scale":{"domain":[-12,247],"nice":false,"zero":false},"axis":{"values":[0,50,100,150,200]}},"y":{"field":"y","type":"quantitative","title":null,"scale":{"domain":[-2,43.6],"nice":false,"zero":false},"axis":{"values":[0,10,20,30,40]}}},"layer":[{"data":{"name":"p_Arequipa"},"mark":{"type":"square"}},{"data":{"name":"f_Arequipa"},"mark":{"type":"line","color":"#000000","strokeWidth":1},"encoding":{}}]},
{"width":107,"height":95,"encoding":{"x":{"field":"x","type":"quantitative","title":null,"scale":{"domain":[-5.3,111],"nice":false,"zero":false},"axis":{"values":[0,30,60,90]}},"y":{"field":"y","type":"quantitative","title":null,"scale":{"domain":[-1.7,24.4],"nice":false,"zero":false},"axis":{"values":[0,5,10,15,20]}}},"layer":[{"data":{"name":"p_Ayacucho"},"mark":{"type":"square"}},{"data":{"name":"f_Ayacucho"},"mark":{"type":"line","color":"#000000","strokeWidth":1},"encoding":{}}]},
{"width":105,"height":95,"encoding":{"x":{"field":"x","type":"quantitative","title":null,"scale":{"domain":[-12,258],"nice":false,"zero":false},"axis":{"values":[0,50,100,150,200,250]}},"y":{"field":"y","type":"quantitative","title":null,"scale":{"domain":[-2.6,44.1],"nice":false,"zero":false},"axis":{"values":[0,10,20,30,40]}}},"layer":[{"data":{"name":"p_Cajamarca"},"mark":{"type":"square"}},{"data":{"name":"f_Cajamarca"},"mark":{"type":"line","color":"#000000","strokeWidth":1},"encoding":{}}]},
{"width":106,"height":95,"encoding":{"x":{"field":"x","type":"quantitative","title":null,"scale":{"domain":[-7,143],"nice":false,"zero":false},"axis":{"values":[0,50,100]}},"y":{"field":"y","type":"quantitative","title":null,"scale":{"domain":[-2.5,41.5],"nice":false,"zero":false},"axis":{"values":[0,10,20,30,40]}}},"layer":[{"data":{"name":"p_Cusco"},"mark":{"type":"square"}},{"data":{"name":"f_Cusco"},"mark":{"type":"line","color":"#000000","strokeWidth":1},"encoding":{}}]},
{"width":106,"height":95,"encoding":{"x":{"field":"x","type":"quantitative","title":null,"scale":{"domain":[-2.1,44],"nice":false,"zero":false},"axis":{"values":[0,10,20,30,40]}},"y":{"field":"y","type":"quantitative","title":null,"scale":{"domain":[-0.45,9.25],"nice":false,"zero":false},"axis":{"values":[0,2.5,5,7.5],"format":".1f"}}},"layer":[{"data":{"name":"p_Huancavelica"},"mark":{"type":"square"}},{"data":{"name":"f_Huancavelica"},"mark":{"type":"line","color":"#000000","strokeWidth":1},"encoding":{}}]},
{"width":1,"height":39,"data":{"values":[]},"mark":{"type":"point"}},
{"width":1,"height":39,"data":{"values":[]},"mark":{"type":"point"}},
{"width":1,"height":39,"data":{"values":[]},"mark":{"type":"point"}},
{"width":1,"height":39,"data":{"values":[]},"mark":{"type":"point"}},
{"width":1,"height":39,"data":{"values":[]},"mark":{"type":"point"}},
{"width":1,"height":39,"data":{"values":[]},"mark":{"type":"point"}},
{"width":1,"height":39,"data":{"values":[]},"mark":{"type":"point"}},
{"width":1,"height":39,"data":{"values":[]},"mark":{"type":"point"}},
{"width":104,"height":25,"view":{"fill":"#cdc1c5","stroke":"#1a1a1a","strokeWidth":1},"data":{"values":[{"name":"Huanuco"}]},"mark":{"type":"text"},"encoding":{"text":{"field":"name","type":"nominal"}}},
{"width":105,"height":25,"view":{"fill":"#cdc1c5","stroke":"#1a1a1a","strokeWidth":1},"data":{"values":[{"name":"Ica"}]},"mark":{"type":"text"},"encoding":{"text":{"field":"name","type":"nominal"}}},
{"width":104,"height":25,"view":{"fill":"#cdc1c5","stroke":"#1a1a1a","strokeWidth":1},"data":{"values":[{"name":"Junin"}]},"mark":{"type":"text"},"encoding":{"text":{"field":"name","type":"nominal"}}},
{"width":104,"height":25,"view":{"fill":"#cdc1c5","stroke":"#1a1a1a","strokeWidth":1},"data":{"values":[{"name":"La Libertad"}]},"mark":{"type":"text"},"encoding":{"text":{"field":"name","type":"nominal"}}},
{"width":107,"height":25,"view":{"fill":"#cdc1c5","stroke":"#1a1a1a","strokeWidth":1},"data":{"values":[{"name":"Lambayeque"}]},"mark":{"type":"text"},"encoding":{"text":{"field":"name","type":"nominal"}}},
{"width":105,"height":25,"view":{"fill":"#cdc1c5","stroke":"#1a1a1a","strokeWidth":1},"data":{"values":[{"name":"Lima"}]},"mark":{"type":"text"},"encoding":{"text":{"field":"name","type":"nominal"}}},
{"width":106,"height":25,"view":{"fill":"#cdc1c5","stroke":"#1a1a1a","strokeWidth":1},"data":{"values":[{"name":"Loreto"}]},"mark":{"type":"text"},"encoding":{"text":{"field":"name","type":"nominal"}}},
{"width":106,"height":25,"view":{"fill":"#cdc1c5","stroke":"#1a1a1a","strokeWidth":1},"data":{"values":[{"name":"Madre De Dios"}]},"mark":{"type":"text"},"encoding":{"text":{"field":"name","type":"nominal"}}},
{"width":104,"height":95,"encoding":{"x":{"field":"x","type":"quantitative","title":null,"scale":{"domain":[-4.9,102],"nice":false,"zero":false},"axis":{"values":[0,25,50,75,100]}},"y":{"field":"y","type":"quantitative","title":null,"scale":{"domain":[-1.2,18.4],"nice":false,"zero":false},"axis":{"values":[0,5,10,15]}}},"layer":[{"data":{"name":"p_Huanuco"},"mark":{"type":"square"}},{"data":{"name":"f_Huanuco"},"mark":{"type":"line","color":"#000000","strokeWidth":1},"encoding":{}}]},
{"width":105,"height":95,"encoding":{"x":{"field":"x","type":"quantitative","title":null,"scale":{"domain":[-8.5,178.5],"nice":false,"zero":false},"axis":{"values":[0,50,100,150]}},"y":{"field":"y","type":"quantitative","title":null,"scale":{"domain":[-2.4,38.9],"nice":false,"zero":false},"axis":{"values":[0,10,20,30]}}},"layer":[{"data":{"name":"p_Ica"},"mark":{"type":"square"}},{"data":{"name":"f_Ica"},"mark":{"type":"line","color":"#000000","strokeWidth":1},"encoding":{}}]},
{"width":104,"height":95,"encoding":{"x":{"field":"x","type":"quantitative","title":null,"scale":{"domain":[-8.8,184],"nice":false,"zero":false},"axis":{"values":[0,50,100,150]}},"y":{"field":"y","type":"quantitative","title":null,"scale":{"domain":[-2.4,50.4],"nice":false,"zero":false},"axis":{"values":[0,10,20,30,40,50]}}},"layer":[{"data":{"name":"p_Junin"},"mark":{"type":"square"}},{"data":{"name":"f_Junin"},"mark":{"type":"line","color":"#000000","strokeWidth":1},"encoding":{}}]},
{"width":104,"height":95,"encoding":{"x":{"field":"x","type":"quantitative","title":null,"scale":{"domain":[-17,362],"nice":false,"zero":false},"axis":{"values":[0,100,200,300]}},"y":{"field":"y","type":"quantitative","title":null,"scale":{"domain":[-3.6,75.6],"nice":false,"zero":false},"axis":{"values":[0,20,40,60]}}},"layer":[{"data":{"name":"p_La_Libertad"},"mark":{"type":"square"}},{"data":{"name":"f_La_Libertad"},"mark":{"type":"line","color":"#000000","strokeWidth":1},"encoding":{}}]},
{"width":107,"height":95,"encoding":{"x":{"field":"x","type":"quantitative","title":null,"scale":{"domain":[-14,300],"nice":false,"zero":false},"axis":{"values":[0,100,200,300]}},"y":{"field":"y","type":"quantitative","title":null,"scale":{"domain":[-3,66.2],"nice":false,"zero":false},"axis":{"values":[0,20,40,60]}}},"layer":[{"data":{"name":"p_Lambayeque"},"mark":{"type":"square"}},{"data":{"name":"f_Lambayeque"},"mark":{"type":"line","color":"#000000","strokeWidth":1},"encoding":{}}]},
{"width":105,"height":95,"encoding":{"x":{"field":"x","type":"quantitative","title":null,"scale":{"domain":[-62,1252],"nice":false,"zero":false},"axis":{"values":[0,250,500,750,1000,1250]}},"y":{"field":"y","type":"quantitative","title":null,"scale":{"domain":[-10,283],"nice":false,"zero":false},"axis":{"values":[0,100,200]}}},"layer":[{"data":{"name":"p_Lima"},"mark":{"type":"square"}},{"data":{"name":"f_Lima"},"mark":{"type":"line","color":"#000000","strokeWidth":1},"encoding":{}}]},
{"width":106,"height":95,"encoding":{"x":{"field":"x","type":"quantitative","title":null,"scale":{"domain":[-9,171],"nice":false,"zero":false},"axis":{"values":[0,50,100,150]}},"y":{"field":"y","type":"quantitative","title":null,"scale":{"domain":[-2.8,36.5],"nice":false,"zero":false},"axis":{"values":[0,10,20,30]}}},"layer":[{"data":{"name":"p_Loreto"},"mark":{"type":"square"}},{"data":{"name":"f_Loreto"},"mark":{"type":"line","color":"#000000","strokeWidth":1},"encoding":{}}]},
{"width":106,"height":95,"encoding":{"x":{"field":"x","type":"quantitative","title":null,"scale":{"domain":[-4.9,102],"nice":false,"zero":false},"axis":{"values":[0,25,50,75,100]}},"y":{"field":"y","type":"quantitative","title":null,"scale":{"domain":[-1,21.3],"nice":false,"zero":false},"axis":{"values":[0,5,10,15,20]}}},"layer":[{"data":{"name":"p_Madre_De_Dios"},"mark":{"type":"square"}},{"data":{"name":"f_Madre_De_Dios"},"mark":{"type":"line","color":"#000000","strokeWidth":1},"encoding":{}}]},
{"width":1,"height":49,"data":{"values":[]},"mark":{"type":"point"}},
{"width":1,"height":49,"data":{"values":[]},"mark":{"type":"point"}},
{"width":1,"height":49,"data":{"values":[]},"mark":{"type":"point"}},
{"width":1,"height":49,"data":{"values":[]},"mark":{"type":"point"}},
{"width":1,"height":49,"data":{"values":[]},"mark":{"type":"point"}},
{"width":1,"height":49,"data":{"values":[]},"mark":{"type":"point"}},
{"width":1,"height":49,"data":{"values":[]},"mark":{"type":"point"}},
{"width":1,"height":49,"data":{"values":[]},"mark":{"type":"point"}},
{"width":104,"height":25,"view":{"fill":"#cdc1c5","stroke":"#1a1a1a","strokeWidth":1},"data":{"values":[{"name":"Moquegua"}]},"mark":{"type":"text"},"encoding":{"text":{"field":"name","type":"nominal"}}},
{"width":105,"height":25,"view":{"fill":"#cdc1c5","stroke":"#1a1a1a","strokeWidth":1},"data":{"values":[{"name":"Pasco"}]},"mark":{"type":"text"},"encoding":{"text":{"field":"name","type":"nominal"}}},
{"width":104,"height":25,"view":{"fill":"#cdc1c5","stroke":"#1a1a1a","strokeWidth":1},"data":{"values":[{"name":"Piura"}]},"mark":{"type":"text"},"encoding":{"text":{"field":"name","type":"nominal"}}},
{"width":104,"height":25,"view":{"fill":"#cdc1c5","stroke":"#1a1a1a","strokeWidth":1},"data":{"values":[{"name":"Puno"}]},"mark":{"type":"text"},"encoding":{"text":{"field":"name","type":"nominal"}}},
{"width":107,"height":25,"view":{"fill":"#cdc1c5","stroke":"#1a1a1a","strokeWidth":1},"data":{"values":[{"name":"San Martin"}]},"mark":{"type":"text"},"encoding":{"text":{"field":"name","type":"nominal"}}},
{"width":105,"height":25,"view":{"fill":"#cdc1c5","stroke":"#1a1a1a","strokeWidth":1},"data":{"values":[{"name":"Tacna"}]},"mark":{"type":"text"},"encoding":{"text":{"field":"name","type":"nominal"}}},
{"width":106,"height":25,"view":{"fill":"#cdc1c5","stroke":"#1a1a1a","strokeWidth":1},"data":{"values":[{"name":"Tumbes"}]},"mark":{"type":"text"},"encoding":{"text":{"field":"name","type":"nominal"}}},
{"width":106,"height":25,"view":{"fill":"#cdc1c5","stroke":"#1a1a1a","strokeWidth":1},"data":{"values":[{"name":"Ucayali"}]},"mark":{"type":"text"},"encoding":{"text":{"field":"name","type":"nominal"}}},
{"width":104,"height":95,"encoding":{"x":{"field":"x","type":"quantitative","title":null,"scale":{"domain":[-3.5,72.5],"nice":false,"zero":false},"axis":{"values":[0,20,40,60]}},"y":{"field":"y","type":"quantitative","title":null,"scale":{"domain":[-0.7,15.2],"nice":false,"zero":false},"axis":{"values":[0,5,10]}}},"layer":[{"data":{"name":"p_Moquegua"},"mark":{"type":"square"}},{"data":{"name":"f_Moquegua"},"mark":{"type":"line","color":"#000000","strokeWidth":1},"encoding":{}}]},
{"width":105,"height":95,"encoding":{"x":{"field":"x","type":"quantitative","title":null,"scale":{"domain":[-1.5,31.5],"nice":false,"zero":false},"axis":{"values":[0,10,20,30]}},"y":{"field":"y","type":"quantitative","title":null,"scale":{"domain":[-0.12,4.72],"nice":false,"zero":false},"axis":{"values":[0,1,2,3,4]}}},"layer":[{"data":{"name":"p_Pasco"},"mark":{"type":"square"}},{"data":{"name":"f_Pasco"},"mark":{"type":"line","color":"#000000","strokeWidth":1},"encoding":{}}]},
{"width":104,"height":95,"encoding":{"x":{"field":"x","type":"quantitative","title":null,"scale":{"domain":[-10,200],"nice":false,"zero":false},"axis":{"values":[0,50,100,150,200]}},"y":{"field":"y","type":"quantitative","title":null,"scale":{"domain":[-3.3,48.4],"nice":false,"zero":false},"axis":{"values":[0,10,20,30,40]}}},"layer":[{"data":{"name":"p_Piura"},"mark":{"type":"square"}},{"data":{"name":"f_Piura"},"mark":{"type":"line","color":"#000000","strokeWidth":1},"encoding":{}}]},
{"width":104,"height":95,"encoding":{"x":{"field":"x","type":"quantitative","title":null,"scale":{"domain":[-14,294],"nice":false,"zero":false},"axis":{"values":[0,100,200]}},"y":{"field":"y","type":"quantitative","title":null,"scale":{"domain":[-3.2,66.2],"nice":false,"zero":false},"axis":{"values":[0,20,40,60]}}},"layer":[{"data":{"name":"p_Puno"},"mark":{"type":"square"}},{"data":{"name":"f_Puno"},"mark":{"type":"line","color":"#000000","strokeWidth":1},"encoding":{}}]},
{"width":107,"height":95,"encoding":{"x":{"field":"x","type":"quantitative","title":null,"scale":{"domain":[-4.3,89.3],"nice":false,"zero":false},"axis":{"values":[0,25,50,75]}},"y":{"field":"y","type":"quantitative","title":null,"scale":{"domain":[-1,21.5],"nice":false,"zero":false},"axis":{"values":[0,5,10,15,20]}}},"layer":[{"data":{"name":"p_San_Martin"},"mark":{"type":"square"}},{"data":{"name":"f_San_Martin"},"mark":{"type":"line","color":"#000000","strokeWidth":1},"encoding":{}}]},
{"width":105,"height":95,"encoding":{"x":{"field":"x","type":"quantitative","title":null,"scale":{"domain":[-6.5,136.5],"nice":false,"zero":false},"axis":{"values":[0,50,100]}},"y":{"field":"y","type":"quantitative","title":null,"scale":{"domain":[-1.1,22.6],"nice":false,"zero":false},"axis":{"values":[0,5,10,15,20]}}},"layer":[{"data":{"name":"p_Tacna"},"mark":{"type":"square"}},{"data":{"name":"f_Tacna"},"mark":{"type":"line","color":"#000000","strokeWidth":1},"encoding":{}}]},
{"width":106,"height":95,"encoding":{"x":{"field":"x","type":"quantitative","title":null,"scale":{"domain":[-5,120.5],"nice":false,"zero":false},"axis":{"values":[0,30,60,90,120]}},"y":{"field":"y","type":"quantitative","title":null,"scale":{"domain":[-1.3,28.3],"nice":false,"zero":false},"axis":{"values":[0,10,20]}}},"layer":[{"data":{"name":"p_Tumbes"},"mark":{"type":"square"}},{"data":{"name":"f_Tumbes"},"mark":{"type":"line","color":"#000000","strokeWidth":1},"encoding":{}}]},
{"width":106,"height":95,"encoding":{"x":{"field":"x","type":"quantitative","title":null,"scale":{"domain":[-6,181],"nice":false,"zero":false},"axis":{"values":[0,50,100,150]}},"y":{"field":"y","type":"quantitative","title":null,"scale":{"domain":[-3,41.5],"nice":false,"zero":false},"axis":{"values":[0,10,20,30,40]}}},"layer":[{"data":{"name":"p_Ucayali"},"mark":{"type":"square"}},{"data":{"name":"f_Ucayali"},"mark":{"type":"line","color":"#000000","strokeWidth":1},"encoding":{}}]}
]
}]
}
